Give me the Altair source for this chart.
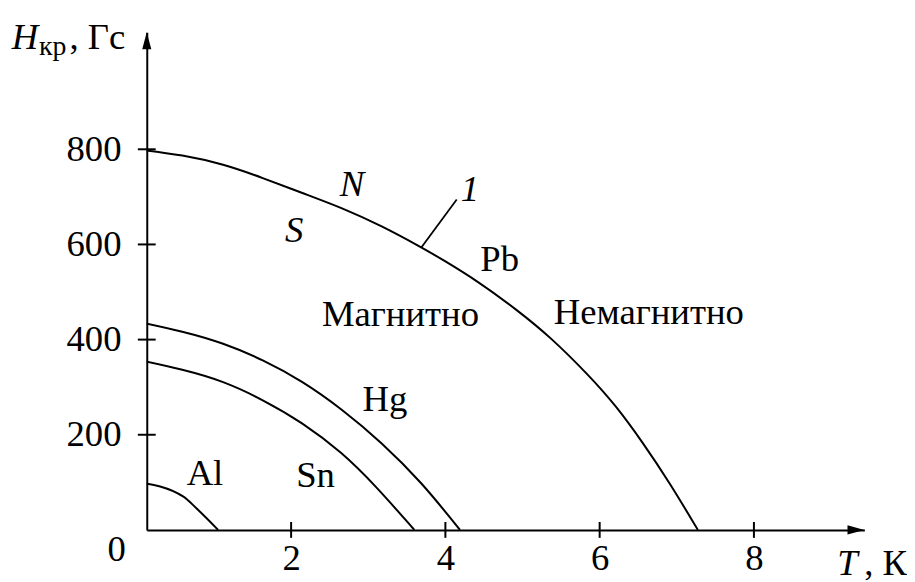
import altair as alt
import pandas as pd

FONT = "Liberation Serif"

# ---- data (T in K, H in Gs) ----
pb_T = [0, 0.604, 1.118, 1.632, 2.146, 2.660, 3.174, 3.688, 3.945, 4.437, 4.931, 5.358, 5.872, 6.216, 6.557, 6.900, 7.274]
pb_H = [800, 788, 769, 740, 708, 677, 639, 594, 570, 521, 462, 406, 323, 260, 184, 101, 0]
hg_T = [0, 0.604, 1.118, 1.632, 2.146, 2.660, 3.174, 3.688, 4.189]
hg_H = [438, 417, 393, 358, 313, 254, 184, 101, 0]
sn_T = [0, 0.604, 1.118, 1.632, 2.146, 2.660, 3.088, 3.598]
sn_H = [358, 337, 313, 274, 226, 163, 94, 0]
al_T = [0, 0.604, 0.775, 1.054]
al_H = [101, 70, 45, 0]

x_tick_vals = [2, 4, 6, 8]
y_tick_vals = [200, 400, 600, 800]
x_dom = [0.1285, 9.432]
y_dom = [0, 1045.8]

# annotation labels (text, T, H)
italic_labels = ["N", "S", "1"]
italic_T = [2.788, 2.039, 4.318]
italic_H = [701.5, 604.6, 691.0]

plain_labels = ["Pb", "Магнитно", "Немагнитно", "Hg", "Al", "Sn", "0"]
plain_T = [4.703, 3.418, 6.637, 3.216, 0.883, 2.317, -0.263]
plain_H = [545.2, 428.5, 432.7, 250.0, 93.75, 90.4, -65.2]

# leader line for curve 1
lead_T = [3.688]
lead_H = [593.75]
lead_T2 = [4.147]
lead_H2 = [694.6]

# axis titles pieces
ttl_italic = ["H", "T"]
ttl_italic_T = [-1.623, 9.08]
ttl_italic_H = [1009.8, -94.4]
ttl_plain = [", Гс", ", К"]
ttl_plain_T = [-0.874, 9.43]
ttl_plain_H = [1009.8, -94.4]
ttl_sub = ["кр"]
ttl_sub_T = [-1.268]
ttl_sub_H = [997.9]

# ---- build tables ----
def table(series):
    rows = []
    for name, ts, hs in series:
        for t, h in zip(ts, hs):
            rows.append({"metal": name, "T": t, "H": h})
    return pd.DataFrame(rows)


big_df = table([("Pb", pb_T, pb_H), ("Hg", hg_T, hg_H), ("Sn", sn_T, sn_H)])
al_df = table([("Al", al_T, al_H)])

xs = alt.Scale(domain=x_dom, nice=False, zero=False)
ys = alt.Scale(domain=y_dom, nice=False, zero=False)

x_axis = alt.Axis(values=x_tick_vals, ticks=False, tickSize=0, grid=False, domain=True,
                  domainColor="black", domainWidth=2, labelFont=FONT, labelFontSize=37,
                  labelColor="black", labelPadding=11, title=None, labelFlush=False,
                  labelOverlap=False)
y_axis = alt.Axis(values=y_tick_vals, ticks=False, tickSize=0, grid=False, domain=True,
                  domainColor="black", domainWidth=2, labelFont=FONT, labelFontSize=37,
                  labelColor="black", labelPadding=26, title=None, labelFlush=False,
                  labelOverlap=False)


def X(field="T"):
    return alt.X(f"{field}:Q", scale=xs, axis=x_axis)


def Y(field="H"):
    return alt.Y(f"{field}:Q", scale=ys, axis=y_axis)


curves = alt.Chart(big_df).mark_line(
    color="black", strokeWidth=2, interpolate="basis", clip=True
).encode(x=X(), y=Y(), detail="metal:N")
al_curve = alt.Chart(al_df).mark_line(
    color="black", strokeWidth=2, interpolate="monotone", clip=True
).encode(x=X(), y=Y(), detail="metal:N")

xt_df = pd.DataFrame({"T": x_tick_vals, "H": [0] * len(x_tick_vals)})
yt_df = pd.DataFrame({"T": [x_dom[0]] * len(y_tick_vals), "H": y_tick_vals})
xticks = alt.Chart(xt_df).mark_tick(orient="vertical", size=16, thickness=2, color="black",
                                    opacity=1).encode(x=X(), y=Y())
yticks = alt.Chart(yt_df).mark_tick(orient="horizontal", size=18, thickness=2, color="black",
                                    opacity=1).encode(x=X(), y=Y())

arrow_x_df = pd.DataFrame({"T": [x_dom[1]], "H": [y_dom[0]]})
arrow_y_df = pd.DataFrame({"T": [x_dom[0]], "H": [y_dom[1]]})
arrow_x = alt.Chart(arrow_x_df).mark_point(
    shape="M0,0L-1,-0.27L-1,0.27Z", size=1156, filled=True, color="black", opacity=1, strokeWidth=0
).encode(x=X(), y=Y())
arrow_y = alt.Chart(arrow_y_df).mark_point(
    shape="M0,0L-0.27,1L0.27,1Z", size=1156, filled=True, color="black", opacity=1, strokeWidth=0
).encode(x=X(), y=Y())

lead_df = pd.DataFrame({"T": lead_T, "H": lead_H, "T2": lead_T2, "H2": lead_H2})
leader = alt.Chart(lead_df).mark_rule(color="black", strokeWidth=1.8).encode(
    x=X(), y=Y(), x2="T2:Q", y2="H2:Q")

it_df = pd.DataFrame({"T": italic_T, "H": italic_H, "label": italic_labels})
it_text = alt.Chart(it_df).mark_text(
    font=FONT, fontSize=37, fontStyle="italic", align="center", baseline="alphabetic", color="black"
).encode(x=X(), y=Y(), text="label:N")

pl_df = pd.DataFrame({"T": plain_T, "H": plain_H, "label": plain_labels})
pl_text = alt.Chart(pl_df).mark_text(
    font=FONT, fontSize=37, align="center", baseline="alphabetic", color="black"
).encode(x=X(), y=Y(), text="label:N")

ti_df = pd.DataFrame({"T": ttl_italic_T, "H": ttl_italic_H, "label": ttl_italic})
ti_text = alt.Chart(ti_df).mark_text(
    font=FONT, fontSize=37, fontStyle="italic", align="left", baseline="alphabetic", color="black"
).encode(x=X(), y=Y(), text="label:N")

tp_df = pd.DataFrame({"T": ttl_plain_T, "H": ttl_plain_H, "label": ttl_plain})
tp_text = alt.Chart(tp_df).mark_text(
    font=FONT, fontSize=37, align="left", baseline="alphabetic", color="black"
).encode(x=X(), y=Y(), text="label:N")

ts_df = pd.DataFrame({"T": ttl_sub_T, "H": ttl_sub_H, "label": ttl_sub})
ts_text = alt.Chart(ts_df).mark_text(
    font=FONT, fontSize=28, align="left", baseline="alphabetic", color="black"
).encode(x=X(), y=Y(), text="label:N")

chart = alt.layer(
    curves, al_curve, xticks, yticks, arrow_x, arrow_y, leader,
    it_text, pl_text, ti_text, tp_text, ts_text
).properties(
    width=724, height=502,
    padding={"left": 140, "top": 22, "right": 43, "bottom": 50},
    autosize=alt.AutoSizeParams(type="none"),
    background="white",
).configure_view(stroke=None)

chart.save("out.html", embed_options={"renderer": "svg", "actions": False})
